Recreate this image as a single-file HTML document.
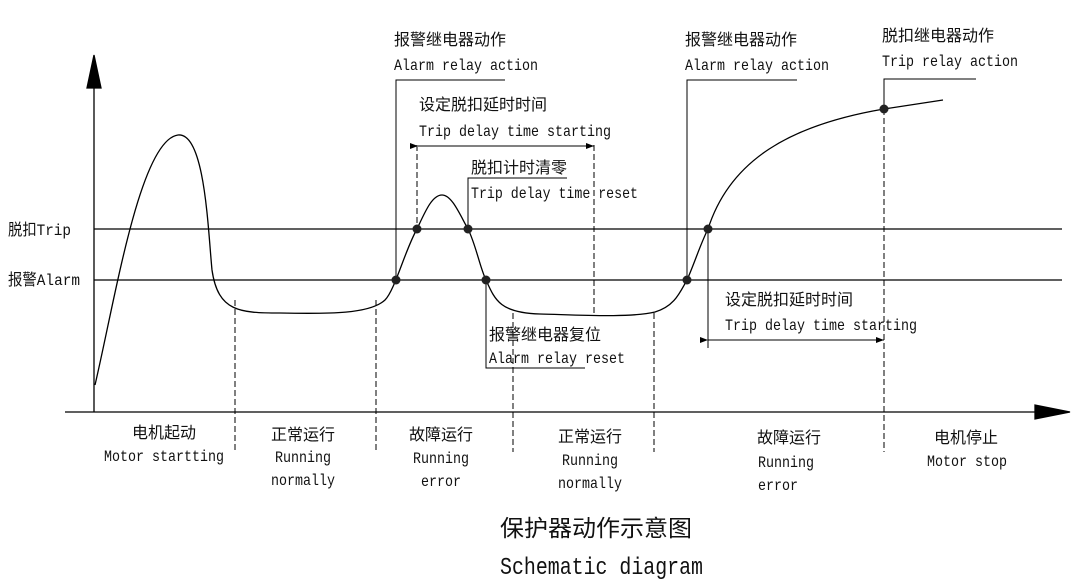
<!DOCTYPE html>
<html><head><meta charset="utf-8"><style>
html,body{margin:0;padding:0;background:#fff;width:1076px;height:586px;overflow:hidden}
text{font-family:"Liberation Mono","Noto Sans CJK SC",monospace;font-size:16px;fill:#111}
.c{text-anchor:middle}
</style></head><body>
<svg width="1076" height="586" viewBox="0 0 1076 586" xmlns="http://www.w3.org/2000/svg">
<defs><marker id="a" markerWidth="8" markerHeight="6" refX="8" refY="3" orient="auto"><path d="M0,0 L8,3 L0,6 z" fill="#000"/></marker></defs>
<g stroke="#000" stroke-width="1.3" fill="none">
<line x1="94" y1="80" x2="94" y2="412"/>
<polygon points="94,55 87,88 101,88" fill="#000"/>
<line x1="65" y1="412" x2="1040" y2="412"/>
<polygon points="1070,412 1035,405 1035,419" fill="#000"/>
<line x1="94" y1="229" x2="1062" y2="229"/>
<line x1="94" y1="280" x2="1062" y2="280"/>
<path d="M95,385 C115,300 140,140 178,135 C205,132 208,230 212,270 C218,312 240,313 280,313 C330,314 370,314 385,300 C395,290 405,250 417,229 C425,212 432,195 442,195 C452,195 460,215 468,229 C476,245 480,268 486,280 C495,300 500,313 540,314 C580,315 630,318 655,312 C675,306 680,292 687,280 C695,262 700,245 708,229 C730,160 790,125 884,109 L943,100"/>
<g stroke-dasharray="6,3" stroke-width="1">
<line x1="235" y1="300" x2="235" y2="452"/>
<line x1="376" y1="300" x2="376" y2="452"/>
<line x1="417" y1="145" x2="417" y2="229"/>
<line x1="594" y1="145" x2="594" y2="316"/>
<line x1="513" y1="313" x2="513" y2="452"/>
<line x1="654" y1="313" x2="654" y2="452"/>
<line x1="884" y1="109" x2="884" y2="452"/>
</g>
<polyline points="396,280 396,80 505,80" stroke-width="1"/>
<polyline points="687,280 687,80 797,80" stroke-width="1"/>
<polyline points="884,109 884,79 976,79" stroke-width="1"/>
<polyline points="468,229 468,178 567,178" stroke-width="1"/>
<polyline points="486,280 486,368 585,368" stroke-width="1"/>
<line x1="708" y1="229" x2="708" y2="348" stroke-width="1"/>
<line x1="418" y1="146" x2="594" y2="146" stroke-width="1" marker-start="url(#a)" marker-end="url(#a)"/>
<line x1="708" y1="340" x2="884" y2="340" stroke-width="1" marker-start="url(#a)" marker-end="url(#a)"/>
</g>
<g fill="#222">
<circle cx="396" cy="280" r="4.5"/><circle cx="417" cy="229" r="4.5"/><circle cx="468" cy="229" r="4.5"/><circle cx="486" cy="280" r="4.5"/>
<circle cx="687" cy="280" r="4.5"/><circle cx="708" cy="229" r="4.5"/><circle cx="884" cy="109" r="4.5"/>
</g>
<text x="8" y="235" textLength="63" lengthAdjust="spacingAndGlyphs">脱扣Trip</text>
<text x="8" y="285" textLength="72" lengthAdjust="spacingAndGlyphs">报警Alarm</text>
<text x="394" y="45">报警继电器动作</text>
<text x="394" y="70" textLength="144" lengthAdjust="spacingAndGlyphs">Alarm relay action</text>
<text x="419" y="110">设定脱扣延时时间</text>
<text x="419" y="136" textLength="192" lengthAdjust="spacingAndGlyphs">Trip delay time starting</text>
<text x="471" y="173">脱扣计时清零</text>
<text x="471" y="198" textLength="167" lengthAdjust="spacingAndGlyphs">Trip delay time reset</text>
<text x="489" y="340">报警继电器复位</text>
<text x="489" y="363" textLength="136" lengthAdjust="spacingAndGlyphs">Alarm relay reset</text>
<text x="685" y="45">报警继电器动作</text>
<text x="685" y="70" textLength="144" lengthAdjust="spacingAndGlyphs">Alarm relay action</text>
<text x="882" y="41">脱扣继电器动作</text>
<text x="882" y="66" textLength="136" lengthAdjust="spacingAndGlyphs">Trip relay action</text>
<text x="725" y="305">设定脱扣延时时间</text>
<text x="725" y="330" textLength="192" lengthAdjust="spacingAndGlyphs">Trip delay time starting</text>
<text class="c" x="164" y="438">电机起动</text>
<text class="c" x="164" y="461" textLength="120" lengthAdjust="spacingAndGlyphs">Motor startting</text>
<text class="c" x="303" y="440">正常运行</text>
<text class="c" x="303" y="462" textLength="56" lengthAdjust="spacingAndGlyphs">Running</text>
<text class="c" x="303" y="485" textLength="64" lengthAdjust="spacingAndGlyphs">normally</text>
<text class="c" x="441" y="440">故障运行</text>
<text class="c" x="441" y="463" textLength="56" lengthAdjust="spacingAndGlyphs">Running</text>
<text class="c" x="441" y="486" textLength="40" lengthAdjust="spacingAndGlyphs">error</text>
<text class="c" x="590" y="442">正常运行</text>
<text class="c" x="590" y="465" textLength="56" lengthAdjust="spacingAndGlyphs">Running</text>
<text class="c" x="590" y="488" textLength="64" lengthAdjust="spacingAndGlyphs">normally</text>
<text class="c" x="789" y="443">故障运行</text>
<text class="c" x="786" y="467" textLength="56" lengthAdjust="spacingAndGlyphs">Running</text>
<text class="c" x="778" y="490" textLength="40" lengthAdjust="spacingAndGlyphs">error</text>
<text class="c" x="966" y="443">电机停止</text>
<text class="c" x="967" y="466" textLength="80" lengthAdjust="spacingAndGlyphs">Motor stop</text>
<text x="500" y="536" style="font-size:23px" textLength="192" lengthAdjust="spacingAndGlyphs">保护器动作示意图</text>
<text x="500" y="574" style="font-size:24px" textLength="203" lengthAdjust="spacingAndGlyphs">Schematic diagram</text>
</svg>
</body></html>
